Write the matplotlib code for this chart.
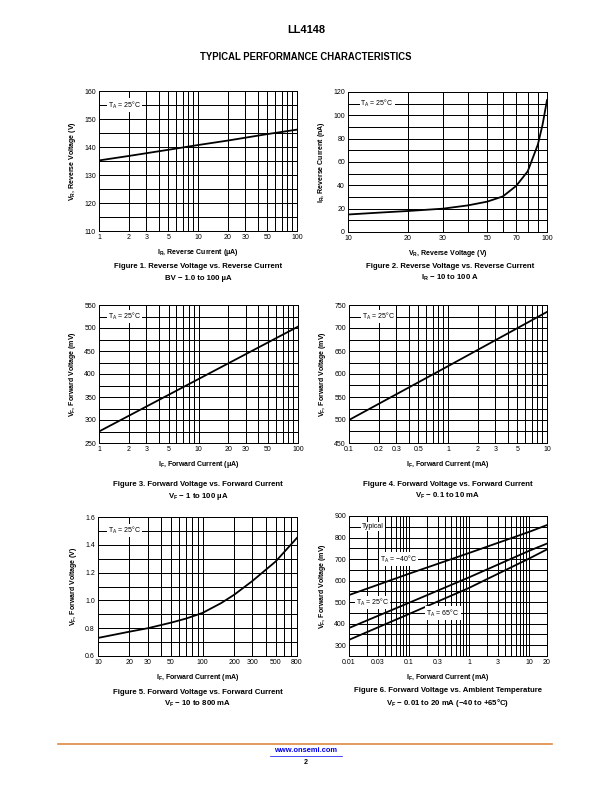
"""LL4148 typical performance characteristics page."""
import matplotlib
matplotlib.use('Agg')
import matplotlib.pyplot as plt
from matplotlib.ticker import NullFormatter
from matplotlib.lines import Line2D
import numpy as np

plt.rcParams['font.family'] = ['Liberation Sans', 'DejaVu Sans']
plt.rcParams['mathtext.fontset'] = 'custom'
plt.rcParams['mathtext.rm'] = 'Liberation Sans'
plt.rcParams['mathtext.bf'] = 'Liberation Sans:bold'
plt.rcParams['mathtext.it'] = 'Liberation Sans:italic'
plt.rcParams['mathtext.default'] = 'rm'

# --- data ---
# Fig 1: reverse voltage vs reverse current
f1_ir = [1, 2, 5, 10, 20, 50, 100]
f1_vr = [135.2, 136.8, 139.0, 140.7, 142.3, 144.6, 146.2]

# Fig 2: reverse current vs reverse voltage
f2_vr = [10, 15, 20, 30, 40, 50, 60, 70, 80, 90, 95, 100]
f2_ir = [15.0, 16.8, 18.0, 20.0, 22.8, 26.0, 30.5, 39.5, 52.0, 75.0, 92.0, 113.0]

# Fig 3: forward voltage vs forward current (uA)
f3_if = [1, 10, 100]
f3_vf = [275, 389, 503]

# Fig 4: forward voltage vs forward current (mA)
f4_if = [0.1, 1, 10]
f4_vf = [500, 617, 735]

# Fig 5: forward voltage vs forward current (mA), high current
f5_if = [10, 20, 30, 50, 70, 100, 150, 200, 300, 500, 800]
f5_vf = [0.73, 0.775, 0.80, 0.84, 0.87, 0.91, 0.98, 1.04, 1.14, 1.28, 1.45]

# Fig 6: forward voltage vs ambient temperature
f6_if = [0.01, 0.1, 1, 10, 20]
f6_m40 = [533, 632, 728, 826, 858]
f6_25 = [380, 497, 615, 738, 772]
f6_65 = [325, 445, 566, 702, 745]

W, H = 612, 792
fig = plt.figure(figsize=(W / 72, H / 72), dpi=72)


def make_ax(left, right, top, bottom):
    return fig.add_axes([left / W, 1 - bottom / H, (right - left) / W, (bottom - top) / H])


def grid_vals(lo, hi):
    vals = []
    d = 10.0 ** np.floor(np.log10(lo))
    while d <= hi:
        for m in range(1, 10):
            v = round(m * d, 10)
            if lo <= v <= hi:
                vals.append(v)
        d *= 10
    return vals


def style(ax, xlim, xticks, xlabels, ylim, yticks, yminor, xlabel, ylabel):
    ax.set_xscale('log')
    ax.set_xlim(*xlim)
    ax.set_ylim(*ylim)
    ax.set_xticks(xticks)
    ax.set_xticklabels(xlabels)
    ax.set_xticks(grid_vals(*xlim), minor=True)
    ax.xaxis.set_minor_formatter(NullFormatter())
    ax.set_yticks(yticks)
    ax.set_yticks(yminor, minor=True)
    ax.grid(True, which='both', color='black', lw=1.0)
    ax.tick_params(which='both', length=0, labelsize=7, pad=3)
    for s in ax.spines.values():
        s.set_linewidth(1.0)
    ax.set_xlabel(xlabel, fontsize=7, fontweight='bold', labelpad=6)
    ax.set_ylabel(ylabel, fontsize=7, fontweight='bold', labelpad=6)


def tag(ax, x, y, s):
    ax.text(x, y, s, fontsize=7, ha='center', va='center', zorder=5,
            bbox=dict(facecolor='white', edgecolor='none', pad=1.0))


def caption(x, y, line1, line2):
    fig.text(x / W, 1 - y / H, line1, ha='center', va='center', fontsize=7.75, fontweight='bold')
    fig.text(x / W, 1 - (y + 12) / H, line2, ha='center', va='center', fontsize=7.75, fontweight='bold')


# Figure 1
ax = make_ax(99, 297, 91, 231)
ax.plot(f1_ir, f1_vr, color='black', lw=1.8, zorder=4)
style(ax, (1, 100), [1, 2, 3, 5, 10, 20, 30, 50, 100], ['1', '2', '3', '5', '10', '20', '30', '50', '100'],
      (110, 160), range(110, 161, 10), range(115, 160, 10),
      r'$\mathbf{I_R}$, Reverse Current ($\mathbf{\mu}$A)', r'$\mathbf{V_R}$, Reverse Voltage (V)')
tag(ax, 1.8, 155, r'T$_\mathrm{A}$ = 25°C')
caption(198, 267, 'Figure 1. Reverse Voltage vs. Reverse Current', 'BV − 1.0 to 100 µA')

# Figure 2
ax = make_ax(348, 547, 92, 232)
ax.plot(f2_vr, f2_ir, color='black', lw=1.8, zorder=4)
style(ax, (10, 100), [10, 20, 30, 50, 70, 100], ['10', '20', '30', '50', '70', '100'],
      (0, 120), range(0, 121, 20), range(10, 120, 20),
      r'$\mathbf{V_R}$, Reverse Voltage (V)', r'$\mathbf{I_R}$, Reverse Current (nA)')
tag(ax, 14, 110, r'T$_\mathrm{A}$ = 25°C')
caption(450, 266, 'Figure 2. Reverse Voltage vs. Reverse Current', r'$\mathbf{I_R}$ − 10 to 100 A')

# Figure 3
ax = make_ax(99, 298, 305, 443)
ax.plot(f3_if, f3_vf, color='black', lw=1.8, zorder=4)
style(ax, (1, 100), [1, 2, 3, 5, 10, 20, 30, 50, 100], ['1', '2', '3', '5', '10', '20', '30', '50', '100'],
      (250, 550), range(250, 551, 50), range(275, 550, 50),
      r'$\mathbf{I_F}$, Forward Current ($\mathbf{\mu}$A)', r'$\mathbf{V_F}$, Forward Voltage (mV)')
tag(ax, 1.8, 525, r'T$_\mathrm{A}$ = 25°C')
caption(198, 484, 'Figure 3. Forward Voltage vs. Forward Current', r'$\mathbf{V_F}$ − 1 to 100 µA')

# Figure 4
ax = make_ax(349, 547, 305, 443)
ax.plot(f4_if, f4_vf, color='black', lw=1.8, zorder=4)
style(ax, (0.1, 10), [0.1, 0.2, 0.3, 0.5, 1, 2, 3, 5, 10], ['0.1', '0.2', '0.3', '0.5', '1', '2', '3', '5', '10'],
      (450, 750), range(450, 751, 50), range(475, 750, 50),
      r'$\mathbf{I_F}$, Forward Current (mA)', r'$\mathbf{V_F}$, Forward Voltage (mV)')
tag(ax, 0.197, 725, r'T$_\mathrm{A}$ = 25°C')
caption(448, 484, 'Figure 4. Forward Voltage vs. Forward Current', r'$\mathbf{V_F}$ − 0.1 to 10 mA')

# Figure 5
ax = make_ax(98, 297, 517, 656)
ax.plot(f5_if, f5_vf, color='black', lw=1.8, zorder=4)
style(ax, (10, 800), [10, 20, 30, 50, 100, 200, 300, 500, 800],
      ['10', '20', '30', '50', '100', '200', '300', '500', '800'],
      (0.6, 1.6), np.arange(0.6, 1.61, 0.2), np.arange(0.7, 1.6, 0.2),
      r'$\mathbf{I_F}$, Forward Current (mA)', r'$\mathbf{V_F}$, Forward Voltage (V)')
ax.set_yticklabels(['0.6', '0.8', '1.0', '1.2', '1.4', '1.6'])
tag(ax, 18, 1.5, r'T$_\mathrm{A}$ = 25°C')
caption(198, 692, 'Figure 5. Forward Voltage vs. Forward Current', r'$\mathbf{V_F}$ − 10 to 800 mA')

# Figure 6
ax = make_ax(349, 547, 516, 656)
for vals in (f6_m40, f6_25, f6_65):
    ax.plot(f6_if, vals, color='black', lw=1.8, zorder=4)
style(ax, (0.01, 20), [0.01, 0.03, 0.1, 0.3, 1, 3, 10, 20],
      ['0.01', '0.03', '0.1', '0.3', '1', '3', '10', '20'],
      (250, 900), range(300, 901, 100), range(250, 900, 100),
      r'$\mathbf{I_F}$, Forward Current (mA)', r'$\mathbf{V_F}$, Forward Voltage (mV)')
tag(ax, 0.025, 850, 'Typical')
tag(ax, 0.066, 700, r'T$_\mathrm{A}$ = −40°C')
tag(ax, 0.025, 500, r'T$_\mathrm{A}$ = 25°C')
tag(ax, 0.37, 450, r'T$_\mathrm{A}$ = 65°C')
caption(448, 691, 'Figure 6. Forward Voltage vs. Ambient Temperature',
        r'$\mathbf{V_F}$ − 0.01 to 20 mA (−40 to +65°C)')

# page header
fig.text(306 / W, 1 - 30 / H, 'LL4148', ha='center', va='center', fontsize=11, fontweight='bold')
fig.text(306 / W, 1 - 57 / H, 'TYPICAL PERFORMANCE CHARACTERISTICS', ha='center', va='center',
         fontsize=9.5, fontweight='bold')

# page footer
fig.add_artist(Line2D([58 / W, 552 / W], [1 - 744 / H] * 2, color='#D9843B', lw=1.6))
fig.text(306 / W, 1 - 751 / H, 'www.onsemi.com', ha='center', va='center', fontsize=7.5,
         fontweight='bold', color='#0000EE')
fig.add_artist(Line2D([270 / W, 342 / W], [1 - 755.5 / H] * 2, color='#0000EE', lw=0.7))
fig.text(306 / W, 1 - 762 / H, '2', ha='center', va='center', fontsize=7, fontweight='bold')

fig.savefig('out.png', dpi=72)
